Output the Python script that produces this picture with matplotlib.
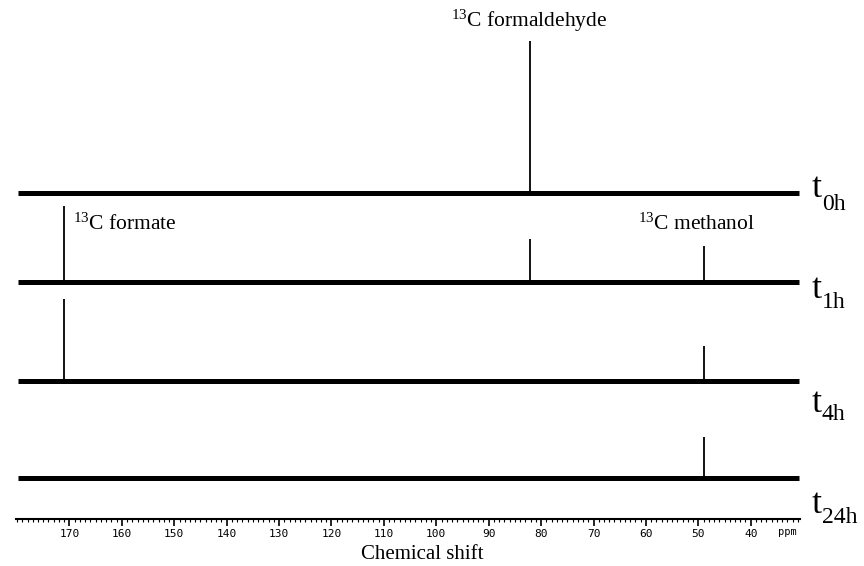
import matplotlib
matplotlib.use("Agg")
import matplotlib.pyplot as plt
from matplotlib.ticker import MultipleLocator

plt.rcParams['mathtext.fontset'] = 'custom'
plt.rcParams['mathtext.rm'] = 'Liberation Serif'
plt.rcParams['mathtext.it'] = 'Liberation Serif:italic'

# ---- data ----
spectra = ["0h", "1h", "4h", "24h"]
formate_ppm = 171.1
formaldehyde_ppm = 82.2
methanol_ppm = 48.9
formate_int = [0, 76, 82, 0]
formaldehyde_int = [152, 43, 0, 0]
methanol_int = [0, 36, 35, 41]
major_ticks = [170, 160, 150, 140, 130, 120, 110, 100, 90, 80, 70, 60, 50, 40]

W, H = 864, 566
fig = plt.figure(figsize=(W / 100, H / 100), dpi=100)
ax_bottom_px = 519
ax = fig.add_axes([16 / W, (H - ax_bottom_px) / H, (800 - 16) / W, ax_bottom_px / H])
ax.set_xlim(180.2, 30.6)
ax.set_ylim(0, ax_bottom_px)

offsets = [326, 237, 138, 41]
for i, name in enumerate(spectra):
    off = offsets[i]
    ax.plot([179.8, 30.8], [off, off], color='black', lw=3.6, solid_capstyle='butt')
    for ppm, ints in ((formate_ppm, formate_int), (formaldehyde_ppm, formaldehyde_int),
                      (methanol_ppm, methanol_int)):
        if ints[i] > 0:
            ax.vlines(ppm, off, off + ints[i], color='black', lw=1.3)

for s in ('top', 'left', 'right'):
    ax.spines[s].set_visible(False)
ax.spines['bottom'].set_linewidth(1.5)
ax.set_yticks([])
ax.set_xticks(major_ticks)
ax.xaxis.set_minor_locator(MultipleLocator(1))
ax.tick_params(axis='x', which='major', direction='out', length=5, width=1.2,
               labelsize=8, pad=2.5)
ax.tick_params(axis='x', which='minor', direction='out', length=2.5, width=0.8)
ax.set_xticklabels([str(t) for t in major_ticks], family='DejaVu Sans Mono')
ax.text(33.0, -8, 'ppm', fontsize=7.5, ha='center', va='top', family='DejaVu Sans Mono')

# x label
fig.text(422 / W, 1 - 559 / H, 'Chemical shift', ha='center', va='baseline',
         fontsize=15, family='Liberation Serif')

# annotations
ax.text(formaldehyde_ppm, ax_bottom_px - 27, r'$^{13}$C formaldehyde', ha='center',
        va='baseline', fontsize=15.5, family='Liberation Serif')
ax.text(169.4, ax_bottom_px - 230, r'$^{13}$C formate', ha='left',
        va='baseline', fontsize=15.5, family='Liberation Serif')
ax.text(61.6, ax_bottom_px - 230, r'$^{13}$C methanol', ha='left',
        va='baseline', fontsize=15.5, family='Liberation Serif')

# spectrum labels
t_base = [197, 298, 412, 513]
sub_base = [210, 308, 420, 523]
for name, yt, ys in zip(spectra, t_base, sub_base):
    fig.text(812 / W, 1 - yt / H, 't', ha='left', va='baseline', fontsize=26,
             family='Liberation Serif')
    fig.text(822 / W, 1 - ys / H, name, ha='left', va='baseline', fontsize=17,
             family='Liberation Serif')

fig.savefig('out.png', dpi=100)
